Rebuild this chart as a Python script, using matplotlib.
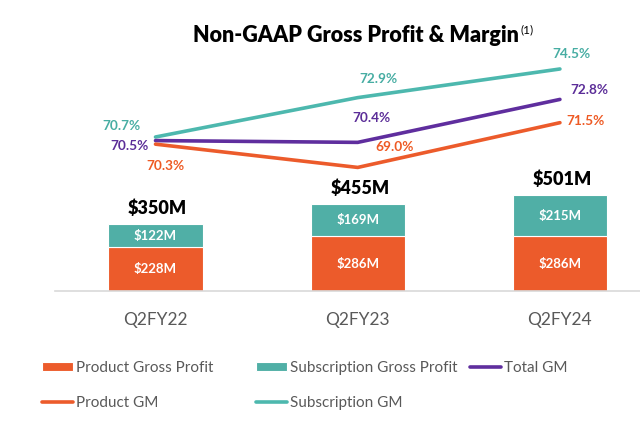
import numpy as np
import matplotlib
matplotlib.use("Agg")
import matplotlib.pyplot as plt

plt.rcParams['font.family'] = ['Lato', 'DejaVu Sans']

# data
quarters = ['Q2FY22', 'Q2FY23', 'Q2FY24']
product_gp = [228, 286, 286]        # $M
subscription_gp = [122, 169, 215]   # $M
total_gp = [350, 455, 501]          # $M
total_gm = [70.5, 70.4, 72.8]       # %
product_gm = [70.3, 69.0, 71.5]     # %
subscription_gm = [70.7, 72.9, 74.5]  # %

# label offsets in pixels (dx, dy) from each point
sub_off = [(-34, 11), (21, 19), (12, 15)]
tot_off = [(-26, -5), (14, 24), (29, 9)]
prod_off = [(10, -22), (37, 20), (26, 2)]

ORANGE = '#EC5B2B'
TEAL = '#50AFA6'
TEAL_LINE = '#4DB8AE'
PURPLE = '#5F2E9E'
GRAY = '#595959'

W, H = 640, 430
fig = plt.figure(figsize=(6.4, 4.3), dpi=100)
fig.patch.set_facecolor('white')

ax = fig.add_axes([55 / W, (H - 291) / H, 585 / W, 251 / H])
x = np.arange(len(quarters))

b1 = ax.bar(x, product_gp, 0.465, color=ORANGE, edgecolor='white', linewidth=0.8,
            label='Product Gross Profit')
b2 = ax.bar(x, subscription_gp, 0.465, bottom=product_gp, color=TEAL, edgecolor='white',
            linewidth=0.8, label='Subscription Gross Profit')

for i in range(len(x)):
    ax.text(x[i], product_gp[i] / 2, f'${product_gp[i]}M', ha='center', va='center',
            color='white', fontsize=9.5, fontweight='bold')
    ax.text(x[i], product_gp[i] + subscription_gp[i] / 2, f'${subscription_gp[i]}M',
            ha='center', va='center', color='white', fontsize=9.5, fontweight='bold')
    ax.annotate(f'${total_gp[i]}M', xy=(x[i], total_gp[i]), xytext=(2, 16),
                textcoords='offset pixels', ha='center', va='center',
                fontsize=13, fontweight='heavy', color='black')

ax.set_xlim(-0.497, 2.396)
ax.set_ylim(0, 1311)
ax.set_xticks(x)
ax.set_xticklabels(quarters, fontsize=12.5, color=GRAY)
ax.tick_params(axis='x', length=0, pad=15)
ax.set_yticks([])
for s in ['top', 'left', 'right']:
    ax.spines[s].set_visible(False)
ax.spines['bottom'].set_color('#D9D9D9')
ax.spines['bottom'].set_linewidth(1.2)

ax2 = ax.twinx()
ax2.set_ylim(62.097, 76.119)
ax2.set_yticks([])
for s in ax2.spines.values():
    s.set_visible(False)

l_sub, = ax2.plot(x, subscription_gm, color=TEAL_LINE, lw=2.6, solid_capstyle='round',
                  label='Subscription GM')
l_tot, = ax2.plot(x, total_gm, color=PURPLE, lw=2.6, solid_capstyle='round',
                  label='Total GM')
l_prod, = ax2.plot(x, product_gm, color=ORANGE, lw=2.6, solid_capstyle='round',
                   label='Product GM')

for vals, offs, col in [(subscription_gm, sub_off, '#47ADA3'),
                        (total_gm, tot_off, '#5B2D98'),
                        (product_gm, prod_off, '#EE5A24')]:
    for i in range(len(x)):
        ax2.annotate(f'{vals[i]:.1f}%', xy=(x[i], vals[i]), xytext=offs[i],
                     textcoords='offset pixels', ha='center', va='center',
                     fontsize=9.8, fontweight='bold', color=col)

title = fig.text(193 / W, 1 - 36 / H, 'Non-GAAP Gross Profit & Margin', ha='left',
                 va='center', fontsize=15.5, fontweight='heavy', color='black')
fig.canvas.draw()
ax.annotate('(1)', xy=(1, 1), xycoords=title, xytext=(1, 1), textcoords='offset points',
            ha='left', va='top', fontsize=8.5, color='black', annotation_clip=False)

leg_kw = dict(loc='upper left', frameon=False, borderpad=0, borderaxespad=0,
              handlelength=2.0, handleheight=0.6, handletextpad=0.2, labelspacing=1.4,
              fontsize=11, labelcolor=GRAY, bbox_transform=fig.transFigure)
fig.legend(handles=[b1, l_prod], bbox_to_anchor=(42 / W, 1 - 361 / H), **leg_kw)
fig.legend(handles=[b2, l_sub], bbox_to_anchor=(256 / W, 1 - 361 / H), **leg_kw)
fig.legend(handles=[l_tot], bbox_to_anchor=(470 / W, 1 - 361 / H), **leg_kw)

fig.savefig('out.png', dpi=100)
